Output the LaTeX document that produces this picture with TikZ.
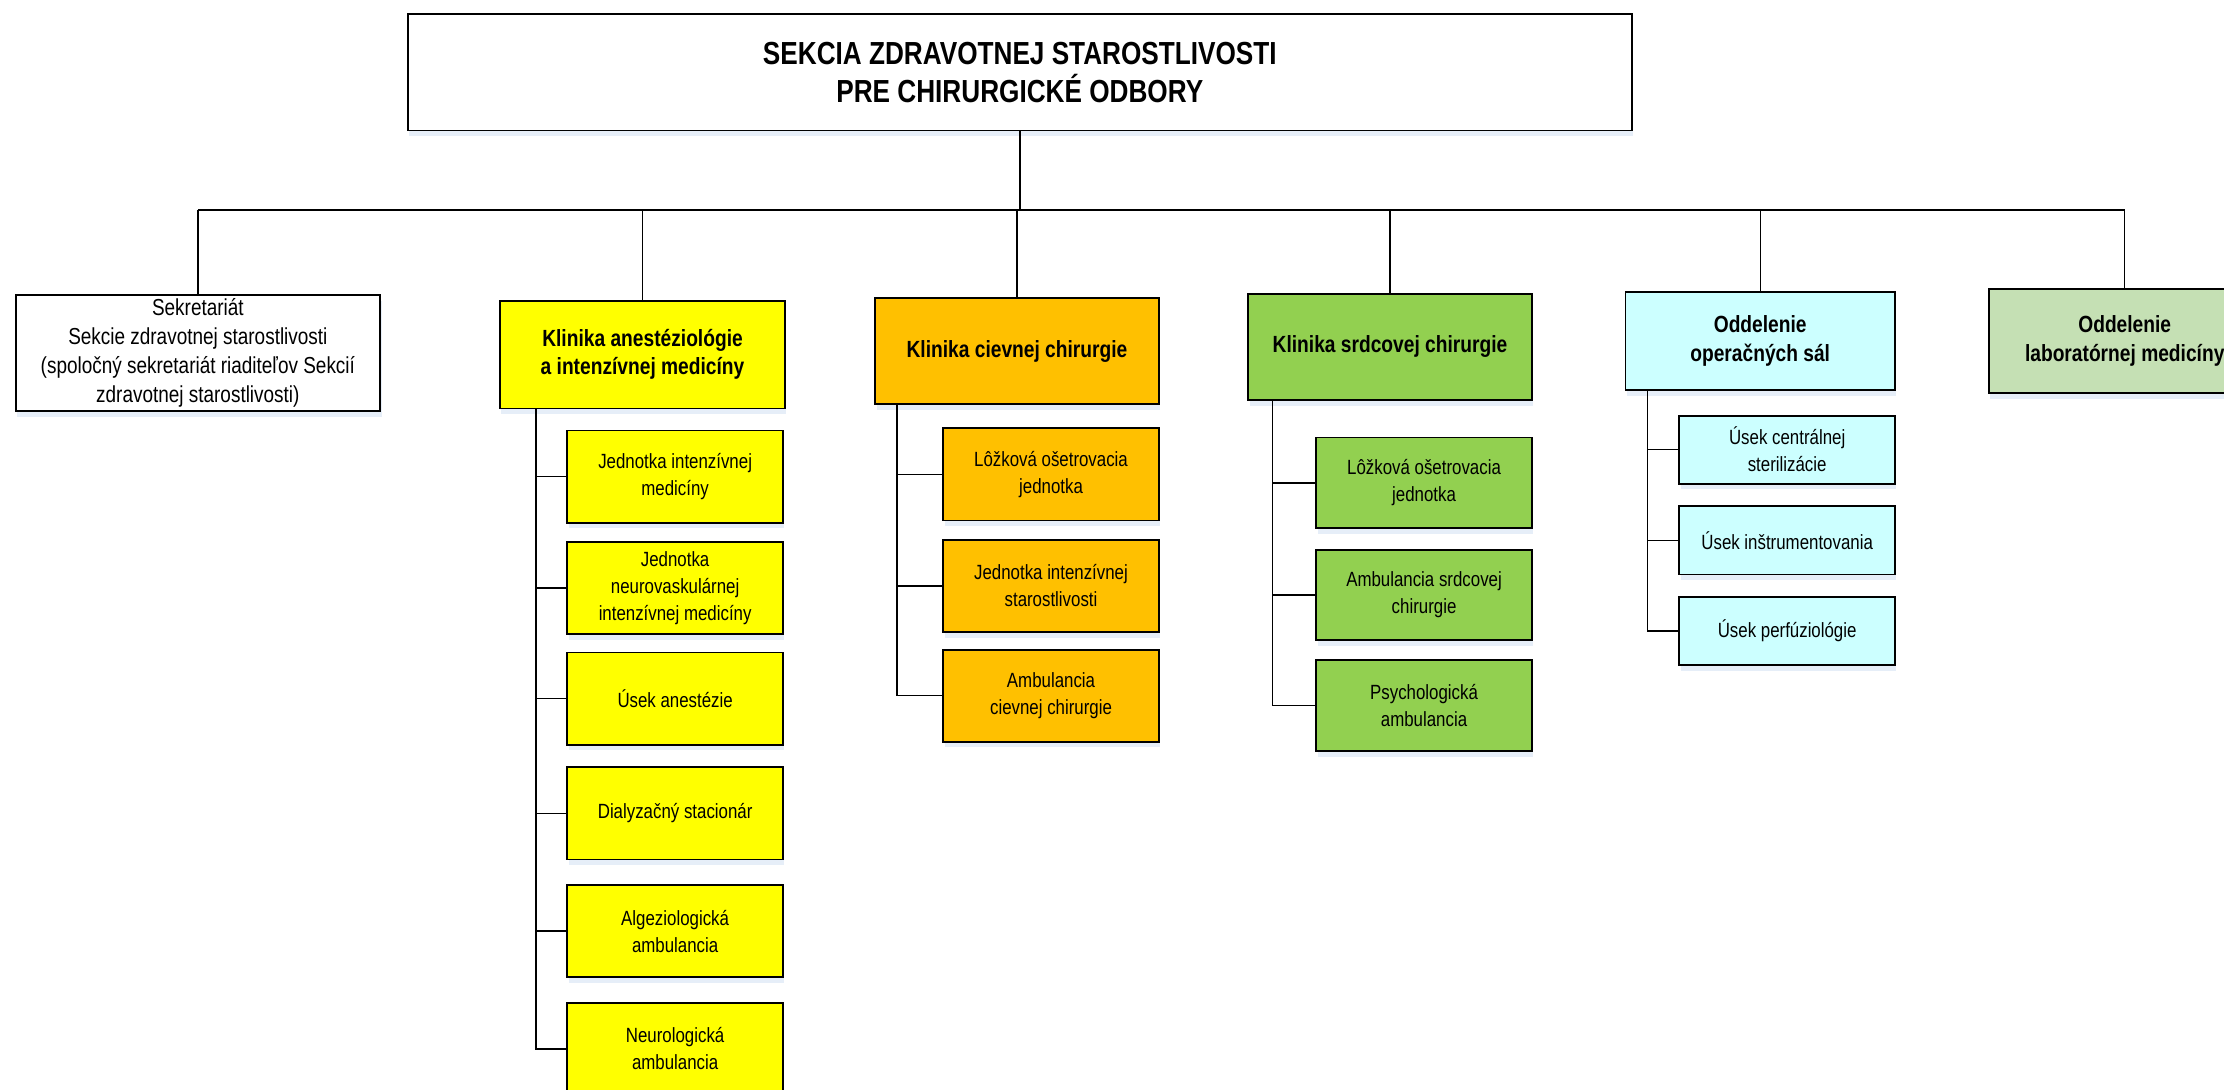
\documentclass[tikz,border=0pt]{standalone}
\usepackage{fontspec}
\setmainfont{Liberation Sans}[FakeStretch=0.82]
\usetikzlibrary{shadows}
\definecolor{anestyellow}{HTML}{FFFF00}
\definecolor{cievorange}{HTML}{FFC000}
\definecolor{srdcgreen}{HTML}{92D050}
\definecolor{salcyan}{HTML}{CCFFFF}
\definecolor{labgreen}{HTML}{C5E0B4}
\definecolor{shadowblue}{HTML}{D6E2F3}
\begin{document}
\begin{tikzpicture}[x=1pt,y=-1pt,
	box/.style={draw, line width=1.3pt, align=center, inner sep=1pt,
		drop shadow={shadow xshift=1pt, shadow yshift=-4pt, fill=shadowblue, opacity=.6}},
	head/.style={box, font=\fontsize{16.5}{20}\selectfont\bfseries},
	unit/.style={box, minimum width=152pt, font=\fontsize{14.5}{19}\selectfont},
	link/.style={line width=1pt}]
	\useasboundingbox (0,0) rectangle (1568,768);
	\clip (0,0) rectangle (1568,768);

	% top of the section
	\node [box, fill=white, minimum width=863pt, minimum height=82pt,
		font=\fontsize{22.5}{27}\selectfont\bfseries] (top) at (719,51)
		{SEKCIA ZDRAVOTNEJ STAROSTLIVOSTI\\PRE CHIRURGICKÉ ODBORY};
	\coordinate (bus) at (717,148);

	% second level
	\node [box, fill=white, inner sep=0pt, minimum width=257pt, minimum height=82pt,
		font=\fontsize{16.3}{20.5}\selectfont] (sek) at (139.5,249)
		{Sekretariát\\Sekcie zdravotnej starostlivosti\\(spoločný sekretariát riaditeľov Sekcií\\zdravotnej starostlivosti)};
	\node [head, fill=anestyellow, minimum width=201pt, minimum height=76pt] (kan) at (453,250)
		{Klinika anestéziológie\\a intenzívnej medicíny};
	\node [head, fill=cievorange, minimum width=200pt, minimum height=75pt] (kcc) at (717,247.5)
		{Klinika cievnej chirurgie};
	\node [head, fill=srdcgreen, minimum width=200pt, minimum height=75pt] (ksc) at (980,244.5)
		{Klinika srdcovej chirurgie};
	\node [head, fill=salcyan, minimum width=190pt, minimum height=69pt] (oos) at (1241,240.5)
		{Oddelenie\\operačných sál};
	\node [head, fill=labgreen, minimum width=192pt, minimum height=73pt] (olm) at (1498,240.5)
		{Oddelenie\\laboratórnej medicíny};

	\draw [link] (top.south) -- (top.south |- bus);
	\draw [link] (sek.north |- bus) -- (olm.north |- bus);
	\foreach \n in {sek,kan,kcc,ksc,oos,olm}
		\draw [link] (\n.north |- bus) -- (\n.north);

	% Klinika anestéziológie a intenzívnej medicíny
	\node [unit, fill=anestyellow, minimum height=65pt] (kan1) at (476,336) {Jednotka intenzívnej\\medicíny};
	\node [unit, fill=anestyellow, minimum height=65pt] (kan2) at (476,414.5) {Jednotka\\neurovaskulárnej\\intenzívnej medicíny};
	\node [unit, fill=anestyellow, minimum height=65pt] (kan3) at (476,492.5) {Úsek anestézie};
	\node [unit, fill=anestyellow, minimum height=65pt] (kan4) at (476,573.5) {Dialyzačný stacionár};
	\node [unit, fill=anestyellow, minimum height=65pt] (kan5) at (476,656.5) {Algeziologická\\ambulancia};
	\node [unit, fill=anestyellow, minimum height=65pt] (kan6) at (476,739.5) {Neurologická\\ambulancia};
	\coordinate (kans) at ([xshift=26pt]kan.south west);
	\foreach \i in {1,...,6}
		\draw [link] (kans) |- (kan\i.west);

	% Klinika cievnej chirurgie
	\node [unit, fill=cievorange, minimum height=65pt] (kcc1) at (741,334.5) {Lôžková ošetrovacia\\jednotka};
	\node [unit, fill=cievorange, minimum height=65pt] (kcc2) at (741,413) {Jednotka intenzívnej\\starostlivosti};
	\node [unit, fill=cievorange, minimum height=65pt] (kcc3) at (741,490.5) {Ambulancia\\cievnej chirurgie};
	\coordinate (kccs) at ([xshift=16pt]kcc.south west);
	\foreach \i in {1,2,3}
		\draw [link] (kccs) |- (kcc\i.west);

	% Klinika srdcovej chirurgie
	\node [unit, fill=srdcgreen, minimum height=64pt] (ksc1) at (1004,340.5) {Lôžková ošetrovacia\\jednotka};
	\node [unit, fill=srdcgreen, minimum height=64pt] (ksc2) at (1004,419.5) {Ambulancia srdcovej\\chirurgie};
	\node [unit, fill=srdcgreen, minimum height=64pt] (ksc3) at (1004,497.5) {Psychologická\\ambulancia};
	\coordinate (kscs) at ([xshift=18pt]ksc.south west);
	\foreach \i in {1,2,3}
		\draw [link] (kscs) |- (ksc\i.west);

	% Oddelenie operačných sál
	\node [unit, fill=salcyan, minimum height=48pt] (oos1) at (1260,317) {Úsek centrálnej\\sterilizácie};
	\node [unit, fill=salcyan, minimum height=48pt] (oos2) at (1260,381) {Úsek inštrumentovania};
	\node [unit, fill=salcyan, minimum height=48pt] (oos3) at (1260,445) {Úsek perfúziológie};
	\coordinate (ooss) at ([xshift=16pt]oos.south west);
	\foreach \i in {1,2,3}
		\draw [link] (ooss) |- (oos\i.west);
\end{tikzpicture}
\end{document}
